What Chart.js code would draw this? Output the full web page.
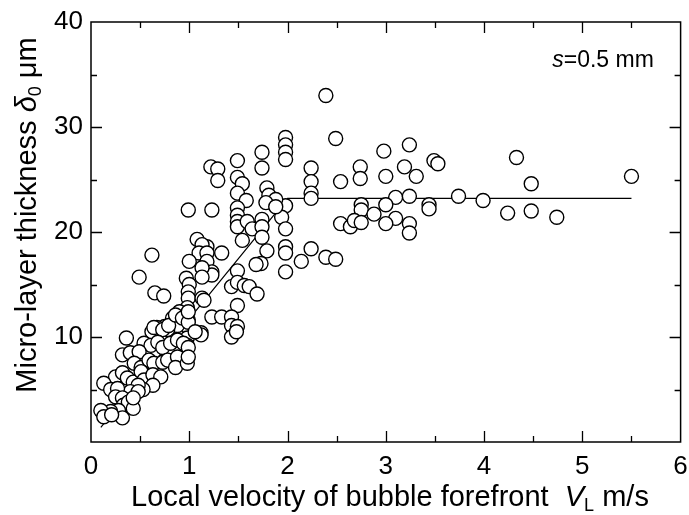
<!DOCTYPE html>
<html>
<head>
<meta charset="utf-8">
<script src="https://cdn.jsdelivr.net/npm/chart.js@4.4.1/dist/chart.umd.min.js"></script>
<style>
  html, body { margin: 0; padding: 0; background: #fff; }
</style>
</head>
<body>
<canvas id="chartCanvas" width="689" height="515"></canvas>
<script>
const velocity = [
    // plateau / scatter above 2 m/s
    2.39, 1.98, 1.98, 1.98, 1.98, 2.49, 2.98, 2.24, 2.24, 2.24, 2.24, 2.54, 2.74, 2.74,
    1.98, 1.94, 1.98, 2.75, 2.75, 2.88, 2.54, 2.64, 2.68, 2.75, 1.98, 1.98, 1.98,
    2.14, 2.24, 2.39, 2.49,
    3.24, 3.19, 3.00, 3.31, 3.49, 3.53, 4.33, 5.50, 4.48,
    3.10, 3.24, 3.00, 3.10, 3.00, 3.24, 3.24, 3.44, 3.44, 3.74, 3.99, 4.24, 4.48, 4.74,
    // rising part, upper
    1.74, 1.49, 1.22, 1.29, 1.29, 1.74, 1.49, 1.54, 1.79, 1.49, 1.58, 1.81, 1.88, 1.78,
    1.88, 1.49, 1.49, 0.99, 1.23, 1.49, 1.49, 1.59, 1.74, 1.64, 1.74, 1.08, 1.54, 1.74,
    // middle
    1.18, 1.13, 1.10, 1.18, 1.33, 0.62, 1.00, 1.18, 1.79, 1.73, 1.68,
    1.49, 1.23, 1.23, 1.13, 1.13, 0.97, 1.00, 1.43, 1.49, 1.56, 1.61, 1.69, 1.49,
    0.65, 0.74, 0.99, 0.99, 1.13, 1.15, 0.98, 0.49,
    1.23, 1.33, 1.43, 1.43, 1.49, 1.43, 1.48, 0.90, 0.93, 0.99, 0.99, 1.12, 1.12,
    0.83, 0.88, 0.75, 0.78, 0.67, 0.62, 0.98, 0.98, 0.87,
    // dense low-velocity cluster
    0.36, 0.64, 0.73, 0.79, 0.86, 0.93, 0.99, 0.99, 1.06,
    0.54, 0.61, 0.68, 0.73, 0.81, 0.88, 0.94, 0.99,
    0.32, 0.40, 0.49, 0.44, 0.51, 0.59, 0.64, 0.73, 0.78, 0.88, 0.86, 0.98, 0.99,
    0.25, 0.32, 0.37, 0.43, 0.51, 0.54, 0.63, 0.71, 0.63, 0.53, 0.48, 0.40, 0.48,
    0.13, 0.20, 0.27, 0.25, 0.32, 0.33, 0.38, 0.43, 0.28, 0.20, 0.10, 0.13, 0.32, 0.43, 0.21
];
const thickness = [
    33.0, 29.0, 28.3, 27.6, 26.9, 28.9, 27.7, 26.1, 24.8, 23.7, 23.2, 24.8, 26.2, 25.1,
    22.5, 21.4, 20.3, 22.6, 22.1, 21.7, 20.8, 20.5, 21.1, 20.9, 18.6, 18.0, 16.2,
    17.2, 18.4, 17.6, 17.4,
    28.3, 26.2, 25.3, 25.3, 26.8, 26.5, 27.1, 25.3, 24.6,
    23.3, 23.4, 22.6, 21.3, 20.8, 20.8, 19.9, 22.6, 22.2, 23.4, 23.0, 21.8, 22.0, 21.4,
    27.6, 26.8, 26.2, 26.0, 24.9, 26.1, 25.2, 24.6, 24.2, 23.7, 23.0, 23.5, 23.1, 22.8,
    22.4, 22.3, 21.6, 22.1, 22.1, 21.0, 20.5, 21.0, 21.2, 20.3, 20.5, 19.3, 19.2, 19.5,
    18.6, 18.8, 18.0, 18.0, 18.0, 17.8, 17.2, 17.2, 18.2, 17.0, 16.9,
    16.3, 16.2, 15.9, 16.6, 15.7, 15.6, 15.0, 14.8, 15.2, 14.9, 14.8, 14.1, 13.0,
    14.2, 13.9, 14.3, 13.7, 13.7, 13.5, 12.8, 15.7,
    11.9, 11.9, 11.9, 11.1, 11.0, 10.0, 10.5, 12.4, 11.6, 11.6, 10.9, 10.4, 10.2,
    11.8, 11.1, 11.0, 10.7, 10.9, 10.5, 9.9, 9.2, 9.7,
    9.9, 10.9, 10.7, 11.1, 12.1, 11.8, 11.4, 12.4, 10.5,
    9.4, 9.2, 9.5, 9.0, 9.4, 9.7, 9.4, 9.0,
    8.3, 8.5, 8.6, 7.5, 7.1, 7.8, 7.5, 7.6, 7.8, 8.1, 7.1, 7.5, 8.1,
    6.2, 6.6, 6.1, 5.7, 6.7, 5.9, 6.4, 6.2, 5.4, 5.0, 5.4, 4.8, 4.8,
    5.6, 5.0, 5.1, 4.3, 4.2, 3.5, 3.8, 3.2, 3.0, 2.9, 3.0, 2.4, 2.3, 4.2, 2.6
];

// correlation line (rising part then constant)
const fitVelocity = [0.1, 2.0, 5.5];
const fitThickness = [1.4, 23.2, 23.2];

const xTicks = [0, 1, 2, 3, 4, 5, 6];
const yTicks = [10, 20, 30, 40];

const FONT = '"Liberation Sans", Arial, sans-serif';

const points = velocity.map((v, i) => ({ x: v, y: thickness[i] }));
const fitLine = fitVelocity.map((v, i) => ({ x: v, y: fitThickness[i] }));

function drawRuns(ctx, runs, cx, y) {
    let total = 0;
    runs.forEach(r => {
        ctx.font = r.font;
        r.w = ctx.measureText(r.text).width;
        total += r.w;
    });
    let x = cx - total / 2;
    runs.forEach(r => {
        ctx.font = r.font;
        ctx.fillText(r.text, x, y + (r.dy || 0));
        x += r.w;
    });
}

// frame, inward ticks on all four sides, axis titles and note
const framePlugin = {
    id: 'frame',
    afterDraw(chart) {
        const ctx = chart.ctx;
        const a = chart.chartArea;
        const xs = chart.scales.x;
        const ys = chart.scales.y;
        ctx.save();
        ctx.strokeStyle = '#000';
        ctx.lineWidth = 1.5;
        ctx.strokeRect(a.left, a.top, a.right - a.left, a.bottom - a.top);

        ctx.lineWidth = 1.3;
        ctx.beginPath();
        for (let v = 0.5; v < 6; v += 0.5) {
            const px = Math.round(xs.getPixelForValue(v)) + 0.5;
            const len = Number.isInteger(v) ? 11 : 6;
            ctx.moveTo(px, a.bottom); ctx.lineTo(px, a.bottom - len);
            ctx.moveTo(px, a.top); ctx.lineTo(px, a.top + len);
        }
        for (let v = 5; v < 40; v += 5) {
            const py = Math.round(ys.getPixelForValue(v)) + 0.5;
            const len = v % 10 === 0 ? 11 : 6;
            ctx.moveTo(a.left, py); ctx.lineTo(a.left + len, py);
            ctx.moveTo(a.right, py); ctx.lineTo(a.right - len, py);
        }
        ctx.stroke();

        ctx.fillStyle = '#000';
        ctx.textBaseline = 'alphabetic';
        const f = 29;
        drawRuns(ctx, [
            { text: 'Local velocity of bubble forefront  ', font: `${f}px ${FONT}` },
            { text: 'V', font: `italic ${f}px ${FONT}` },
            { text: 'L', font: `${Math.round(f * 0.62)}px ${FONT}`, dy: 5 },
            { text: ' m/s', font: `${f}px ${FONT}` }
        ], 390, 506);

        ctx.save();
        ctx.translate(36, 215);
        ctx.rotate(-Math.PI / 2);
        drawRuns(ctx, [
            { text: 'Micro-layer thickness ', font: `${f}px ${FONT}` },
            { text: '\u03b4', font: `italic ${f}px ${FONT}` },
            { text: '0', font: `${Math.round(f * 0.62)}px ${FONT}`, dy: 5 },
            { text: ' \u03bcm', font: `${f}px ${FONT}` }
        ], 0, 0);
        ctx.restore();

        ctx.textBaseline = 'middle';
        const note = [
            { text: 's', font: `italic 23px ${FONT}` },
            { text: '=0.5 mm', font: `23px ${FONT}` }
        ];
        drawRuns(ctx, note, 603, 61);
        ctx.restore();
    }
};

new Chart(document.getElementById('chartCanvas').getContext('2d'), {
    type: 'scatter',
    data: {
        datasets: [
            {
                label: 'data',
                data: points,
                order: 0,
                pointRadius: 7,
                pointBorderWidth: 1.4,
                pointBackgroundColor: '#fff',
                pointBorderColor: '#000',
                showLine: false
            },
            {
                label: 'fit',
                data: fitLine,
                order: 1,
                showLine: true,
                borderColor: '#000',
                borderWidth: 1.2,
                pointRadius: 0,
                fill: false
            }
        ]
    },
    options: {
        responsive: false,
        animation: false,
        devicePixelRatio: 1,
        layout: { padding: { top: 22, right: 5, left: 0, bottom: 0 } },
        plugins: {
            legend: { display: false },
            tooltip: { enabled: false }
        },
        scales: {
            x: {
                type: 'linear',
                min: 0,
                max: 6,
                grid: { display: false, drawTicks: false },
                border: { display: false },
                ticks: {
                    stepSize: 1,
                    autoSkip: false,
                    maxRotation: 0,
                    padding: 9,
                    color: '#000',
                    font: { family: FONT, size: 26 },
                    callback: v => (xTicks.includes(v) ? String(v) : '')
                },
                afterFit(s) {
                    s.height = 73;
                    s.paddingLeft = 0;
                    s.paddingRight = 0;
                }
            },
            y: {
                type: 'linear',
                min: 0,
                max: 40,
                grid: { display: false, drawTicks: false },
                border: { display: false },
                ticks: {
                    stepSize: 10,
                    padding: 8,
                    color: '#000',
                    font: { family: FONT, size: 26 },
                    callback: v => (yTicks.includes(v) ? String(v) : '')
                },
                afterFit(s) {
                    s.width = 91;
                    s.paddingTop = 0;
                    s.paddingBottom = 0;
                }
            }
        }
    },
    plugins: [framePlugin]
});
</script>
</body>
</html>
